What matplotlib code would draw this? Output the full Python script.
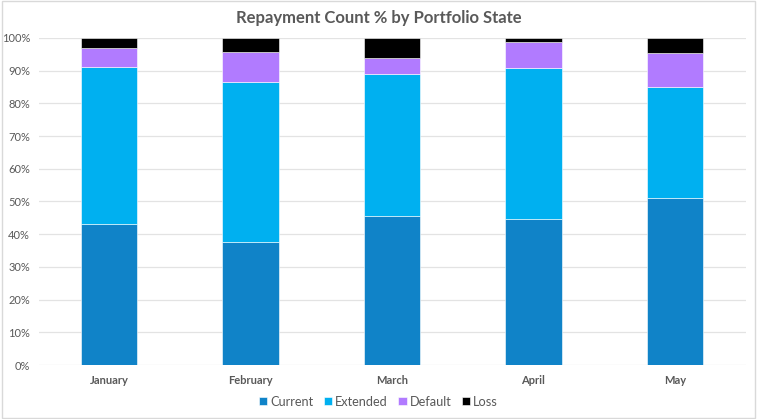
# Repayment count share by portfolio state, stacked to 100%

import matplotlib.pyplot as plt
import numpy as np
from matplotlib.patches import Rectangle

# Data --------------------------------------------------------------------

months = ["January", "February", "March", "April", "May"]
current = [43.2, 37.7, 45.7, 44.7, 51.2]
extended = [47.8, 48.9, 43.2, 46.1, 33.7]
default = [6.0, 9.0, 4.9, 8.1, 10.4]
loss = [3.0, 4.4, 6.2, 1.1, 4.7]

series_names = ["Current", "Extended", "Default", "Loss"]
colours = ["#1083C8", "#00B0F0", "#B17BFF", "#000000"]

# Plot --------------------------------------------------------------------

plt.rcParams["font.family"] = ["Lato", "DejaVu Sans"]
grey = "#595959"

fig = plt.figure(figsize=(7.57, 4.19), dpi=100)
ax = fig.add_axes([38.5 / 757, 1 - 365 / 419, (745.6 - 38.5) / 757, 327 / 419])

x = np.arange(len(months))
bottom = np.zeros(len(months))
for name, vals, col in zip(series_names, [current, extended, default, loss], colours):
    ax.bar(x, vals, width=0.4, bottom=bottom, color=col, label=name,
           edgecolor="white", linewidth=0.4, zorder=3)
    bottom += np.array(vals)

ax.set_xlim(-0.5, len(months) - 0.5)
ax.set_ylim(0, 100)
ax.set_yticks(np.arange(0, 101, 10))
ax.set_yticklabels([f"{v}%" for v in range(0, 101, 10)])
ax.set_xticks(x)
ax.set_xticklabels(months, fontweight="bold", fontsize=8.5)
ax.tick_params(axis="both", length=0, colors=grey, labelsize=8)
ax.tick_params(axis="y", pad=6)
ax.tick_params(axis="x", pad=7)
ax.grid(axis="y", color="#E3E3E3", linewidth=0.9, zorder=0)
for s in ax.spines.values():
    s.set_visible(False)

fig.suptitle("Repayment Count % by Portfolio State", y=0.975, fontsize=12,
             fontweight="bold", color=grey)

leg = fig.legend(loc="lower center", bbox_to_anchor=(0.5, 0.0), ncol=4,
                 frameon=False, fontsize=9.2, handlelength=0.65, handleheight=0.65,
                 handletextpad=0.25, columnspacing=0.8)
for t in leg.get_texts():
    t.set_color(grey)

# light border round the chart area
fig.patches.append(Rectangle((0.002, 0.003), 0.996, 0.994, transform=fig.transFigure,
                             fill=False, edgecolor="#D9D9D9", linewidth=1))

plt.savefig("out.png", dpi=100)
